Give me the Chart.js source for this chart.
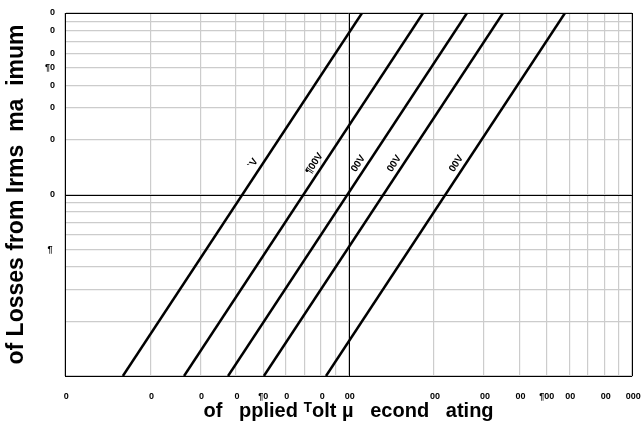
<!DOCTYPE html>
<html>
<head>
<meta charset="utf-8">
<script src="https://cdn.jsdelivr.net/npm/chart.js@4/dist/chart.umd.min.js"></script>
<style>
  html, body { margin: 0; padding: 0; background: #fff; }
  #wrap { width: 644px; height: 431px; position: relative; }
</style>
</head>
<body>
<div id="wrap"><canvas id="chart"></canvas></div>
<script>
/* ── data ─────────────────────────────── */

// grid values (log decades) on each axis
const xGridValues = [10, 20, 30, 40, 50, 60, 70, 80, 90, 100, 200, 300, 400, 500, 600, 700, 800, 900, 1000];
const yGridValues = [1, 2, 3, 4, 5, 6, 7, 8, 9, 10, 20, 30, 40, 50, 60, 70, 80, 90, 100];

// labelled ticks, text as it shows in the picture
const xTickValues = [10, 20, 30, 40, 50, 60, 80, 100, 200, 300, 400, 500, 600, 800, 1000];
const xTickLabels = [' 0', ' 0', ' 0', ' 0', '¶0', ' 0', ' 0', ' 00', ' 00', ' 00', ' 00', '¶00', ' 00', ' 00', ' 000'];
const yTickValues = [100, 80, 60, 50, 40, 30, 20, 10, 5];
const yTickLabels = ['0', '0', '0', '¶0', '0', '0', '0', '0', '¶ '];

// dark reference lines (decade edges)
const xDark = [10, 100, 1000];
const yDark = [1, 10, 100];

// the five straight lines: x where each meets the bottom (y=1) and top (y=100)
const lineY      = [1, 100];
const lineStartX = [16.0, 26.3, 37.6, 50.3, 83.3];
const lineEndX   = [111.6, 183.2, 261.8, 350.7, 580.3];
const lineNames  = ['`V', '¶00V', '00V', '00V', '00V'];

const xTitle = 'of   pplied ᵀolt µ   econd   ating';
const yTitle = 'of Losses from Irms  ma  imum';

/* ── helpers ──────────────────────────── */

const FONT = '"Liberation Sans", Arial, Helvetica, sans-serif';

function tickText(values, labels, v) {
  const i = values.indexOf(v);
  return i < 0 ? '' : labels[i];
}

// black decade lines on top of the light grid
const darkGridPlugin = {
  id: 'darkGrid',
  beforeDatasetsDraw(chart) {
    const { ctx, chartArea: a, scales: { x, y } } = chart;
    ctx.save();
    ctx.strokeStyle = '#000';
    ctx.lineWidth = 1;
    ctx.beginPath();
    xDark.forEach(v => {
      const px = Math.round(x.getPixelForValue(v)) + 0.5;
      ctx.moveTo(px, a.top); ctx.lineTo(px, a.bottom);
    });
    yDark.forEach(v => {
      const py = Math.round(y.getPixelForValue(v)) + 0.5;
      ctx.moveTo(a.left, py); ctx.lineTo(a.right, py);
    });
    ctx.stroke();
    ctx.restore();
  }
};

// rotated labels sitting just above-left of every line
const lineLabelPlugin = {
  id: 'lineLabels',
  afterDatasetsDraw(chart) {
    const { ctx, scales: { x, y } } = chart;
    const labelY = 14;
    ctx.save();
    ctx.font = 'bold 10px ' + FONT;
    ctx.fillStyle = '#000';
    ctx.textAlign = 'center';
    ctx.textBaseline = 'middle';
    lineStartX.forEach((x0, i) => {
      const x1 = lineEndX[i];
      const p0 = { x: x.getPixelForValue(x0), y: y.getPixelForValue(lineY[0]) };
      const p1 = { x: x.getPixelForValue(x1), y: y.getPixelForValue(lineY[1]) };
      const t = (Math.log10(labelY) - Math.log10(lineY[0])) / (Math.log10(lineY[1]) - Math.log10(lineY[0]));
      const px = p0.x + (p1.x - p0.x) * t;
      const py = p0.y + (p1.y - p0.y) * t;
      const len = Math.hypot(p1.x - p0.x, p1.y - p0.y);
      const dx = (p1.x - p0.x) / len, dy = (p1.y - p0.y) / len;
      const off = 8;
      ctx.save();
      ctx.translate(px + dy * off, py - dx * off);
      ctx.rotate(Math.atan2(dy, dx));
      ctx.fillText(lineNames[i], 0, 0);
      ctx.restore();
    });
    ctx.restore();
  }
};

/* ── chart ────────────────────────────── */

const datasets = lineStartX.map((x0, i) => ({
  data: [{ x: x0, y: lineY[0] }, { x: lineEndX[i], y: lineY[1] }],
  borderColor: '#000',
  borderWidth: 2.5,
  pointRadius: 0,
  fill: false,
  tension: 0
}));

new Chart(document.getElementById('chart'), {
  type: 'line',
  data: { datasets },
  plugins: [darkGridPlugin, lineLabelPlugin],
  options: {
    responsive: true,
    maintainAspectRatio: false,
    animation: false,
    layout: { padding: { top: 13, right: 12, left: 0, bottom: 0 } },
    plugins: { legend: { display: false }, tooltip: { enabled: false } },
    scales: {
      x: {
        type: 'logarithmic',
        min: 10,
        max: 1000,
        afterFit: s => { s.height = 55; s.paddingLeft = 0; s.paddingRight = 0; },
        afterBuildTicks: s => { s.ticks = xGridValues.map(v => ({ value: v })); },
        grid: { drawTicks: false, lineWidth: 1.2, color: '#cccccc' },
        border: { color: '#000', width: 1 },
        ticks: {
          autoSkip: false,
          maxRotation: 0,
          minRotation: 0,
          padding: 15,
          color: '#000',
          font: { family: FONT, size: 9, weight: 'bold' },
          callback: v => tickText(xTickValues, xTickLabels, v)
        },
        title: {
          display: true,
          text: xTitle,
          color: '#000',
          font: { family: FONT, size: 20, weight: 'bold' },
          padding: { top: 0, bottom: 8 }
        }
      },
      y: {
        type: 'logarithmic',
        min: 1,
        max: 100,
        afterFit: s => { s.width = 65; s.paddingTop = 0; s.paddingBottom = 0; },
        afterBuildTicks: s => { s.ticks = yGridValues.map(v => ({ value: v })); },
        grid: { drawTicks: false, lineWidth: 1.2, color: '#cccccc' },
        border: { color: '#000', width: 1 },
        ticks: {
          autoSkip: false,
          padding: 10,
          color: '#000',
          font: { family: FONT, size: 9, weight: 'bold' },
          callback: v => tickText(yTickValues, yTickLabels, v)
        },
        title: {
          display: true,
          text: yTitle,
          color: '#000',
          font: { family: FONT, size: 23, weight: 'bold' },
          padding: { top: 3, bottom: 0 }
        }
      }
    }
  }
});
</script>
</body>
</html>
